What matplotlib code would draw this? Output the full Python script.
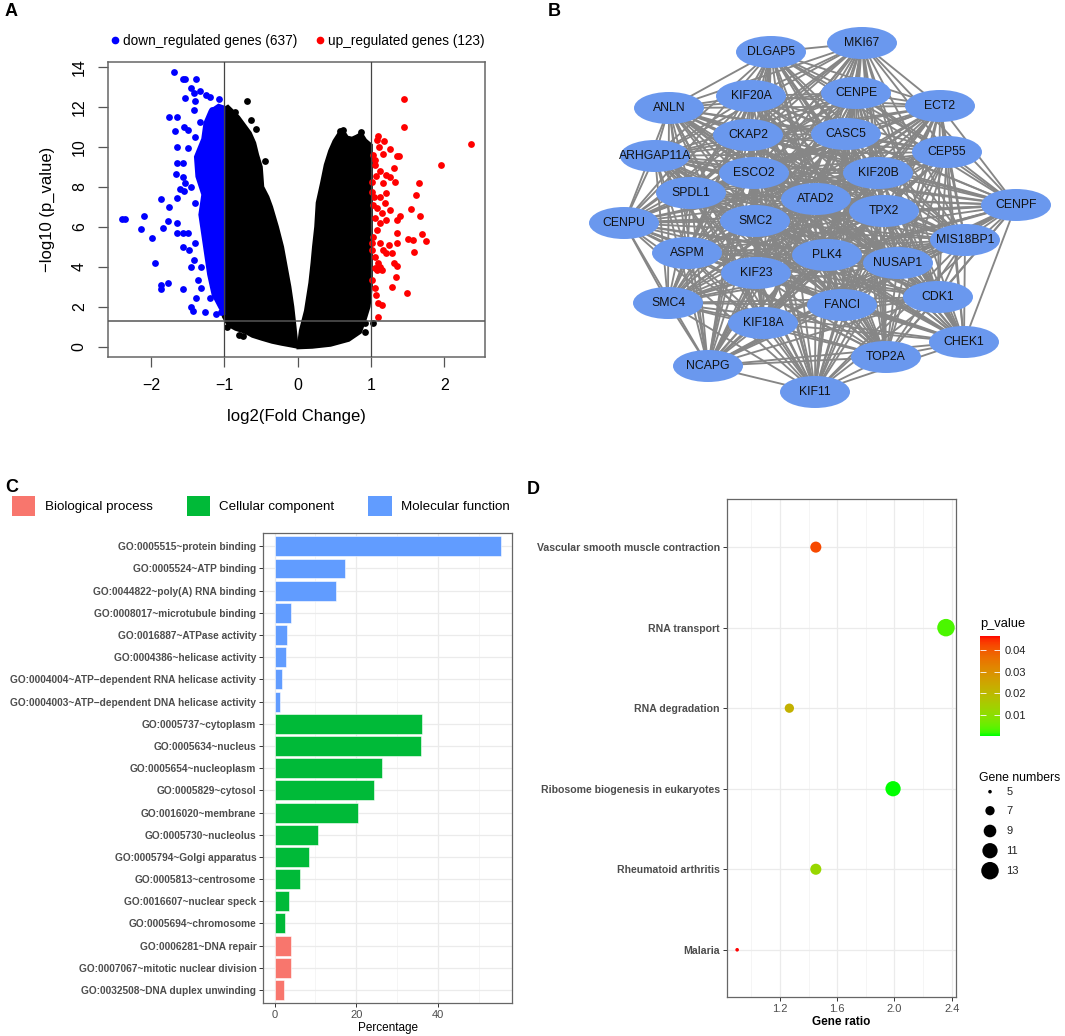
import numpy as np
import matplotlib
matplotlib.use("Agg")
import matplotlib.pyplot as plt
from matplotlib.patches import Ellipse, Patch
from matplotlib.lines import Line2D
from matplotlib.collections import LineCollection
from matplotlib.colors import LinearSegmentedColormap, Normalize
import matplotlib.colorbar as mcolorbar

plt.rcParams['font.family'] = ['Liberation Sans', 'DejaVu Sans']

# ---------------------------------------------------------------------------
# Panel A data: volcano plot (dense clouds as outlines, sparse genes as points)
# ---------------------------------------------------------------------------
LEFT_CLOUD_X = [-1.02, -0.95, -0.88, -0.80, -0.72, -0.64, -0.58, -0.54, -0.49, -0.47, -0.40,
                -0.35, -0.27, -0.20, -0.15, -0.10, -0.06, -0.03, 0.00, -0.10, -0.22, -0.35,
                -0.49, -0.62, -0.72, -0.85, -0.95, -1.02]
LEFT_CLOUD_Y = [11.9, 12.05, 11.8, 11.5, 11.1, 10.7, 10.2, 9.6, 9.0, 8.0, 7.5,
                7.0, 6.0, 5.0, 4.0, 3.0, 2.0, 1.0, -0.05, 0.02, 0.1, 0.2,
                0.35, 0.5, 0.7, 0.85, 1.05, 1.5]
RIGHT_CLOUD_X = [0.00, 0.03, 0.10, 0.16, 0.19, 0.21, 0.24, 0.26, 0.32, 0.37, 0.43, 0.49, 0.56,
                 0.62, 0.68, 0.74, 0.80, 0.87, 0.93, 1.01, 1.01, 0.98, 0.93, 0.86, 0.70, 0.45, 0.20]
RIGHT_CLOUD_Y = [-0.08, 0.8, 1.8, 3.2, 4.2, 5.0, 6.0, 7.2, 8.2, 9.1, 9.8, 10.3, 10.7,
                 10.85, 10.5, 10.45, 10.55, 10.7, 10.35, 10.1, 3.0, 2.0, 1.4, 0.7, 0.3, 0.05, -0.05]
DOWN_CORE_X = [-1.0, -1.08, -1.2, -1.27, -1.3, -1.4, -1.38, -1.3, -1.34, -1.3, -1.26, -1.22,
               -1.16, -1.06, -1.0]
DOWN_CORE_Y = [12.0, 12.1, 11.8, 11.2, 10.4, 9.5, 8.5, 7.6, 6.6, 5.6, 4.6, 3.6,
               2.6, 1.9, 1.6]

NS_X = [-0.69, -0.45, -0.63, -0.57, -0.85, 0.62, 0.58, 0.87, 0.92, 1.03, 0.92, -0.96, -0.8, -0.75]
NS_Y = [12.3, 9.28, 11.33, 10.9, 11.75, 10.85, 10.8, 10.72, 1.17, 1.17, 0.75, 1.0, 0.6, 0.55]

DOWN_X = [-1.68, -1.57, -1.53, -1.39, -1.46, -1.33, -1.25, -1.20, -1.07, -1.41, -1.53, -1.40,
          -1.75, -1.65, -1.42, -1.17, -1.67, -1.55, -1.49, -1.64, -1.50, -1.65, -1.57, -1.66,
          -1.56, -1.54, -1.60, -1.55, -1.86, -1.65, -1.75, -2.10, -2.39, -2.35, -2.13, -1.83,
          -1.77, -1.65, -1.99, -1.65, -1.57, -1.50, -1.56, -1.48, -1.40, -1.94, -1.45, -1.32,
          -1.86, -1.77, -1.86, -1.56, -1.32, -1.38, -1.45, -1.43, -1.27, -1.20, -1.12, -1.04,
          -1.36, -1.42, -1.40, -1.45, -1.35, -1.40, -1.33]
DOWN_Y = [13.73, 13.37, 13.37, 13.37, 12.92, 12.8, 12.58, 12.5, 12.38, 12.67, 12.42, 12.3,
          11.47, 11.47, 11.83, 11.83, 10.78, 11.0, 10.83, 10.0, 9.92, 9.17, 9.17, 8.62,
          8.5, 8.17, 7.87, 7.8, 7.38, 7.42, 7.0, 6.55, 6.38, 6.38, 5.88, 5.95,
          6.28, 6.17, 5.45, 5.67, 5.67, 5.67, 5.0, 4.83, 5.17, 4.17, 3.97, 4.0,
          3.08, 3.17, 2.88, 2.87, 2.92, 2.42, 2.0, 1.78, 1.72, 2.42, 1.63, 1.72,
          3.33, 4.33, 7.17, 8.0, 8.83, 10.5, 11.25]

UP_X = [1.445, 1.445, 2.36, 1.95, 1.66, 1.61, 1.55, 1.67, 1.70, 1.745, 1.50, 1.57, 1.59, 1.49,
        1.29, 1.34, 1.35, 1.32, 1.29, 1.35, 1.35, 1.39, 1.36, 1.33, 1.32, 1.38, 1.35, 1.26,
        1.18, 1.09, 1.08, 1.11, 1.17, 1.03, 1.05, 1.12, 1.21, 1.26, 1.17, 1.21, 1.01, 1.03,
        1.08, 1.15, 1.19, 1.26, 1.05, 1.12, 1.21, 1.08, 1.03, 1.12, 1.24, 1.17, 1.21, 1.05,
        1.10, 1.05, 1.15, 1.02, 1.05, 1.07, 1.09, 1.145, 1.10, 1.02, 1.02, 1.08, 1.12, 1.04,
        1.07, 1.01, 1.05, 1.12]
UP_Y = [12.37, 10.97, 10.12, 9.08, 8.17, 7.58, 6.88, 6.53, 5.63, 5.3, 5.4, 5.33, 4.72, 2.67,
        2.97, 3.5, 4.03, 4.2, 4.7, 5.2, 5.67, 6.55, 6.33, 8.25, 8.92, 9.53, 9.53, 9.9,
        10.27, 10.53, 10.33, 9.97, 9.63, 9.58, 9.08, 8.8, 8.58, 8.5, 8.17, 7.67, 7.75, 7.08,
        6.92, 6.67, 7.17, 6.83, 6.42, 6.17, 6.33, 5.83, 5.5, 5.2, 5.08, 4.83, 4.67, 4.5,
        4.17, 3.92, 3.83, 3.33, 2.92, 2.58, 2.17, 2.08, 1.5, 5.17, 4.83, 3.83, 4.0, 7.5,
        8.53, 8.25, 9.33, 7.5]

# ---------------------------------------------------------------------------
# Panel B data: PPI hub network (Cytoscape layout, panel pixel units)
# ---------------------------------------------------------------------------
GENES = ["DLGAP5", "MKI67", "KIF20A", "CENPE", "ANLN", "ECT2", "CKAP2", "CASC5", "ARHGAP11A",
         "CEP55", "ESCO2", "KIF20B", "SPDL1", "ATAD2", "TPX2", "CENPF", "CENPU", "SMC2",
         "MIS18BP1", "ASPM", "PLK4", "NUSAP1", "KIF23", "SMC4", "FANCI", "CDK1", "KIF18A",
         "CHEK1", "TOP2A", "NCAPG", "KIF11"]
LAYOUT_X = [771, 862, 751, 856, 669, 940, 748, 846, 655, 947, 754, 878, 691, 816, 884, 1016,
            624, 755, 965, 687, 827, 898, 756, 668, 842, 938, 763, 964, 886, 708, 815]
LAYOUT_Y = [52, 43, 96, 93, 108, 106, 135, 134, 156, 152, 173, 173, 193, 199, 211, 205,
            223, 221, 240, 253, 255, 263, 273, 303, 305, 297, 323, 342, 357, 366, 392]

# ---------------------------------------------------------------------------
# Panel C data: GO enrichment
# ---------------------------------------------------------------------------
GO_TERMS = ["GO:0005515~protein binding", "GO:0005524~ATP binding",
            "GO:0044822~poly(A) RNA binding", "GO:0008017~microtubule binding",
            "GO:0016887~ATPase activity", "GO:0004386~helicase activity",
            "GO:0004004~ATP\u2212dependent RNA helicase activity",
            "GO:0004003~ATP\u2212dependent DNA helicase activity",
            "GO:0005737~cytoplasm", "GO:0005634~nucleus", "GO:0005654~nucleoplasm",
            "GO:0005829~cytosol", "GO:0016020~membrane", "GO:0005730~nucleolus",
            "GO:0005794~Golgi apparatus", "GO:0005813~centrosome", "GO:0016607~nuclear speck",
            "GO:0005694~chromosome", "GO:0006281~DNA repair",
            "GO:0007067~mitotic nuclear division", "GO:0032508~DNA duplex unwinding"]
GO_PCT = [55.4, 17.2, 15.0, 3.9, 3.1, 2.9, 1.7, 1.3, 36.1, 35.9, 26.4, 24.4, 20.4,
          10.6, 8.5, 6.1, 3.6, 2.5, 4.1, 3.9, 2.2]
GO_CAT = ["MF"] * 8 + ["CC"] * 10 + ["BP"] * 3
GO_LABELS = {"BP": "Biological process", "CC": "Cellular component", "MF": "Molecular function"}
GO_COLORS = {"BP": "#F8766D", "CC": "#00BA38", "MF": "#619CFF"}

# ---------------------------------------------------------------------------
# Panel D data: KEGG pathways
# ---------------------------------------------------------------------------
KEGG_TERMS = ["Vascular smooth muscle contraction", "RNA transport", "RNA degradation",
              "Ribosome biogenesis in eukaryotes", "Rheumatoid arthritis", "Malaria"]
KEGG_RATIO = [1.45, 2.36, 1.265, 1.99, 1.45, 0.90]
KEGG_COUNT = [8, 13, 7, 11, 8, 5]
KEGG_P = [0.042, 0.003, 0.022, 0.0005, 0.012, 0.0466]
SIZE_BREAKS = [5, 7, 9, 11, 13]
P_TICKS = [0.01, 0.02, 0.03, 0.04]

W, H = 1065, 1036


def rect(l, t, r, b):
    return [l / W, 1 - b / H, (r - l) / W, (b - t) / H]


# ggplot-like green -> red gradient interpolated in CIELAB
_M = np.array([[0.4124, 0.3576, 0.1805], [0.2126, 0.7152, 0.0722], [0.0193, 0.1192, 0.9505]])
_WP = np.array([0.95047, 1.0, 1.08883])


def srgb_to_lab(rgb):
    rgb = np.asarray(rgb, float)
    lin = np.where(rgb <= 0.04045, rgb / 12.92, ((rgb + 0.055) / 1.055) ** 2.4)
    t = (_M @ lin) / _WP
    f = np.where(t > (6 / 29) ** 3, np.cbrt(t), t / (3 * (6 / 29) ** 2) + 4 / 29)
    return np.array([116 * f[1] - 16, 500 * (f[0] - f[1]), 200 * (f[1] - f[2])])


def lab_to_srgb(lab):
    L, a, b = lab
    fy = (L + 16) / 116
    f = np.array([fy + a / 500, fy, fy - b / 200])
    t = np.where(f > 6 / 29, f ** 3, 3 * (6 / 29) ** 2 * (f - 4 / 29))
    lin = np.clip(np.linalg.solve(_M, t * _WP), 0, 1)
    return np.where(lin <= 0.0031308, 12.92 * lin, 1.055 * lin ** (1 / 2.4) - 0.055)


lab_lo, lab_hi = srgb_to_lab([0, 1, 0]), srgb_to_lab([1, 0, 0])
grad = [tuple(np.clip(lab_to_srgb(lab_lo + (lab_hi - lab_lo) * s), 0, 1)) for s in np.linspace(0, 1, 32)]
CMAP = LinearSegmentedColormap.from_list("green_red", grad)


def gene_size(count):
    # area-proportional size scale, diameters in px
    d2 = 3.6 ** 2 + (17.5 ** 2 - 3.6 ** 2) * (np.asarray(count, float) - 5) / 8
    return d2 * 0.72 ** 2


fig = plt.figure(figsize=(W / 100, H / 100), dpi=100)

# ---------------------------------------------------------------------------
# A: volcano
# ---------------------------------------------------------------------------
axa = fig.add_axes(rect(107.7, 61.7, 484.7, 356.7))
axa.fill(LEFT_CLOUD_X, LEFT_CLOUD_Y, color="black", lw=1.5, ec="black", zorder=1)
axa.fill(RIGHT_CLOUD_X, RIGHT_CLOUD_Y, color="black", lw=1.5, ec="black", zorder=1)
axa.scatter(NS_X, NS_Y, s=24, c="black", lw=0, zorder=2)
axa.fill(DOWN_CORE_X, DOWN_CORE_Y, color="blue", lw=1.5, ec="blue", zorder=3)
axa.scatter(DOWN_X, DOWN_Y, s=24, c="blue", lw=0, zorder=3)
axa.scatter(UP_X, UP_Y, s=24, c="red", lw=0, zorder=3)
for v in (-1, 1):
    axa.axvline(v, color="#444444", lw=0.9, zorder=4)
axa.axhline(1.3, color="#555555", lw=1.1, zorder=4)
axa.set_xlim(-2.59, 2.55)
axa.set_ylim(-0.5, 14.25)
axa.set_xticks([-2, -1, 0, 1, 2])
axa.set_xticklabels(["\u22122", "\u22121", "0", "1", "2"])
axa.set_yticks(range(0, 15, 2))
for lab in axa.get_yticklabels():
    lab.set_rotation(90)
    lab.set_va("center")
axa.tick_params(direction="out", length=7, width=0.9, color="#555555", labelsize=11.5, pad=8)
for sp in axa.spines.values():
    sp.set_color("#666666")
    sp.set_linewidth(1.1)
axa.set_xlabel("log2(Fold Change)", fontsize=12, labelpad=12)
axa.set_ylabel("\u2212log10 (p_value)", fontsize=12, labelpad=12)
handles = [Line2D([], [], marker="o", ls="", color="blue", ms=4.5, label="down_regulated genes (637)"),
           Line2D([], [], marker="o", ls="", color="red", ms=4.5, label="up_regulated genes (123)")]
axa.legend(handles=handles, loc="lower center", bbox_to_anchor=(0.5, 1.0), ncol=2, frameon=False,
           fontsize=9.8, handletextpad=0.05, columnspacing=1.2, borderaxespad=0.6, handlelength=1.0)

# ---------------------------------------------------------------------------
# B: network
# ---------------------------------------------------------------------------
axb = fig.add_axes(rect(540, 0, 1065, 420))
axb.set_xlim(540, 1065)
axb.set_ylim(420, 0)
axb.axis("off")
pos = list(zip(LAYOUT_X, LAYOUT_Y))
edges = [(pos[i], pos[j]) for i in range(len(pos)) for j in range(i + 1, len(pos))]
axb.add_collection(LineCollection(edges, colors="#868686", linewidths=1.35, zorder=1))
for name, (x, y) in zip(GENES, pos):
    axb.add_patch(Ellipse((x, y), 70, 32, facecolor="#6A98EE", edgecolor="none", zorder=2))
    axb.text(x, y, name, ha="center", va="center", fontsize=8.8, color="#111111", zorder=3)

# ---------------------------------------------------------------------------
# C: GO bar chart
# ---------------------------------------------------------------------------
axc = fig.add_axes(rect(263.3, 533, 512.3, 1003.3))
n = len(GO_TERMS)
ypos = np.arange(n)[::-1]
axc.barh(ypos, GO_PCT, height=0.9, color=[GO_COLORS[c] for c in GO_CAT],
         edgecolor="white", linewidth=0.4, zorder=3)
axc.set_ylim(-0.6, n - 0.4)
axc.set_xlim(-2.77, 58.17)
axc.set_yticks(ypos)
axc.set_yticklabels(GO_TERMS, fontsize=7.3, fontweight="bold", color="#4D4D4D")
axc.set_xticks([0, 20, 40])
axc.set_xticks([10, 30, 50], minor=True)
axc.grid(True, which="major", color="#EBEBEB", lw=0.9, zorder=0)
axc.grid(True, which="minor", axis="x", color="#F2F2F2", lw=0.5, zorder=0)
axc.set_axisbelow(True)
axc.tick_params(axis="both", which="major", length=3, width=0.7, color="#333333", labelsize=8,
                labelcolor="#4D4D4D", pad=2)
axc.tick_params(axis="y", labelsize=7.3)
axc.tick_params(which="minor", length=0)
for sp in axc.spines.values():
    sp.set_color("#666666")
    sp.set_linewidth(0.9)
axc.set_xlabel("Percentage", fontsize=8.5, labelpad=1)
go_handles = [Patch(facecolor=GO_COLORS[k], edgecolor="none", label=GO_LABELS[k]) for k in ("BP", "CC", "MF")]
fig.legend(handles=go_handles, loc="upper left", bbox_to_anchor=(12 / W, 1 - 496 / H), ncol=3,
           frameon=False, fontsize=9.6, handlelength=1.75, handleheight=1.9, handletextpad=0.7,
           columnspacing=2.55, borderpad=0, borderaxespad=0)

# ---------------------------------------------------------------------------
# D: KEGG dot plot
# ---------------------------------------------------------------------------
axd = fig.add_axes(rect(726.7, 498.8, 956, 997.3))
norm = Normalize(0.00046, 0.0466)
kpos = np.arange(len(KEGG_TERMS))[::-1] + 1
axd.scatter(KEGG_RATIO, kpos, s=gene_size(KEGG_COUNT), c=KEGG_P, cmap=CMAP, norm=norm,
            lw=0, zorder=3)
axd.set_xlim(0.827, 2.43)
axd.set_ylim(0.41, 6.6)
axd.set_yticks(kpos)
axd.set_yticklabels(KEGG_TERMS, fontsize=7.6, fontweight="bold", color="#4D4D4D")
axd.set_xticks([1.2, 1.6, 2.0, 2.4])
axd.set_xticks([1.0, 1.4, 1.8, 2.2], minor=True)
axd.grid(True, which="major", color="#EBEBEB", lw=0.9, zorder=0)
axd.grid(True, which="minor", axis="x", color="#F2F2F2", lw=0.5, zorder=0)
axd.set_axisbelow(True)
axd.tick_params(axis="both", which="major", length=3, width=0.7, color="#333333", labelsize=8,
                labelcolor="#4D4D4D", pad=2)
axd.tick_params(axis="y", labelsize=7.6)
axd.tick_params(which="minor", length=0)
for sp in axd.spines.values():
    sp.set_color("#666666")
    sp.set_linewidth(0.9)
axd.set_xlabel("Gene ratio", fontsize=8.5, fontweight="bold", labelpad=1)

cax = fig.add_axes(rect(980, 635.7, 1000, 735.7))
cb = mcolorbar.ColorbarBase(cax, cmap=CMAP, norm=norm, orientation="vertical")
cb.outline.set_visible(False)
cb.set_ticks(P_TICKS)
cb.set_ticklabels([f"{t:.2f}" for t in P_TICKS])
cax.tick_params(direction="in", length=4, width=0.6, color="white", labelsize=8,
                labelcolor="#222222", left=True, right=True, labelleft=False, labelright=True, pad=3)
fig.text(980 / W, 1 - 624 / H, "p_value", fontsize=9.3, ha="left", va="center")

axl = fig.add_axes(rect(970, 780, 1065, 885))
axl.set_xlim(970, 1065)
axl.set_ylim(885, 780)
axl.axis("off")
leg_y = [791.7, 810.7, 831, 850.7, 870.7]
axl.scatter([990] * len(SIZE_BREAKS), leg_y, s=gene_size(SIZE_BREAKS), c="black", lw=0)
for yy, b in zip(leg_y, SIZE_BREAKS):
    axl.text(1006.5, yy, str(b), fontsize=8, va="center", ha="left", color="#222222")
fig.text(979 / W, 1 - 778 / H, "Gene numbers", fontsize=8.8, ha="left", va="center")

# panel letters
for letter, x, y in (("A", 5, 11), ("B", 548, 11), ("C", 5, 487), ("D", 527, 489)):
    fig.text(x / W, 1 - y / H, letter, fontsize=13, fontweight="bold", ha="left", va="center")

fig.savefig("out.png", dpi=100)
